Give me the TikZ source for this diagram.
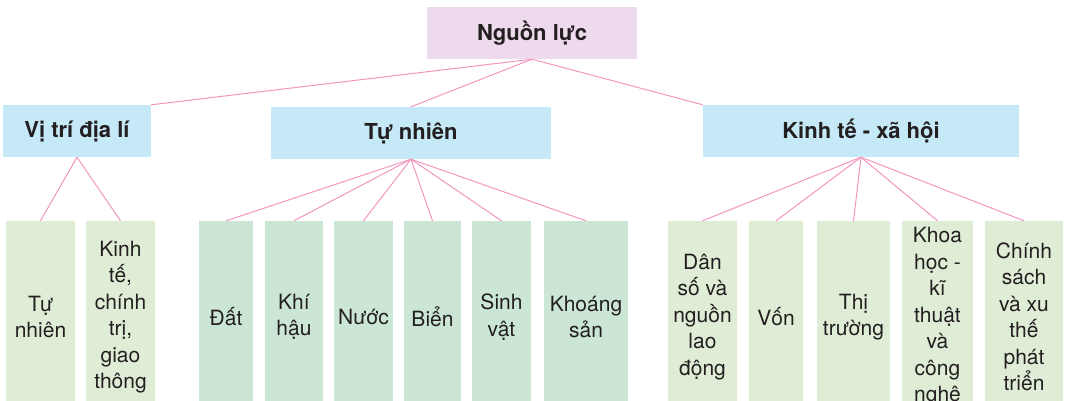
\documentclass[tikz,border=0pt]{standalone}
\usepackage{fontspec}
\setmainfont{TeX Gyre Heros}
\usetikzlibrary{positioning}
\definecolor{RootLilac}{HTML}{EDDAEC}
\definecolor{GroupBlue}{HTML}{C6E9F8}
\definecolor{LeafLime}{HTML}{DFEDD6}
\definecolor{LeafMint}{HTML}{CBE6D4}
\definecolor{LinkPink}{HTML}{F296BF}
\definecolor{InkDark}{HTML}{231F20}
\begin{document}
\begin{tikzpicture}[
        x=1pt,y=-1pt,
        rootbox/.style={fill=RootLilac,minimum width=210pt,minimum height=52pt,inner sep=0pt,text=InkDark,font=\fontsize{22}{26}\selectfont\bfseries},
        groupbox/.style={fill=GroupBlue,minimum height=52pt,inner sep=0pt,text=InkDark,font=\fontsize{22}{26}\selectfont\bfseries},
        leafbox/.style={fill=LeafLime,minimum height=192pt,inner sep=0pt,align=center,text=InkDark,font=\fontsize{21}{26.5}\selectfont},
        link/.style={draw=LinkPink,line width=1pt}
      ]
        \useasboundingbox (0,0) rectangle (1066,400);
        \clip (0,0) rectangle (1066,400);
        % top and group level
        \node[rootbox] (root) at (532,33) {Nguồn lực};
        \node[groupbox,minimum width=148pt] (vitri) at (77,131) {Vị trí địa lí};
        \node[groupbox,minimum width=280pt] (tunhien) at (411,133) {Tự nhiên};
        \node[groupbox,minimum width=316pt] (kinhte) at (861,131) {Kinh tế - xã hội};
        % leaves
        \node[leafbox,minimum width=69pt] (vt1) at (40.5,317) {Tự\\nhiên};
        \node[leafbox,minimum width=69pt] (vt2) at (120.5,317) {Kinh\\tế,\\chính\\trị,\\giao\\thông};
        \node[leafbox,fill=LeafMint,minimum width=54pt] (tn1) at (226,317) {Đất};
        \node[leafbox,fill=LeafMint,minimum width=58pt] (tn2) at (294,317) {Khí\\hậu};
        \node[leafbox,fill=LeafMint,minimum width=59pt] (tn3) at (363.5,317) {Nước};
        \node[leafbox,fill=LeafMint,minimum width=57pt] (tn4) at (432.5,317) {Biển};
        \node[leafbox,fill=LeafMint,minimum width=59pt] (tn5) at (501.5,317) {Sinh\\vật};
        \node[leafbox,fill=LeafMint,minimum width=84pt] (tn6) at (586,317) {Khoáng\\sản};
        \node[leafbox,minimum width=69pt] (kt1) at (702.5,317) {Dân\\số và\\nguồn\\lao\\động};
        \node[leafbox,minimum width=54pt] (kt2) at (776,317) {Vốn};
        \node[leafbox,minimum width=73pt] (kt3) at (853.5,317) {Thị\\trường};
        \node[leafbox,minimum width=71pt] (kt4) at (937.5,317) {Khoa\\học -\\kĩ\\thuật\\và\\công\\nghệ};
        \node[leafbox,minimum width=78pt] (kt5) at (1024,317) {Chính\\sách\\và xu\\thế\\phát\\triển};
        % connectors
        \draw[link] (root.south)--(vitri.north east);
        \draw[link] (root.south)--(tunhien.north);
        \draw[link] (root.south)--(kinhte.north west);
        \foreach \leaf in {vt1,vt2}
          \draw[link] (vitri.south)--(\leaf.north);
        \foreach \leaf in {tn1,tn2,tn3,tn4,tn5,tn6}
          \draw[link] (tunhien.south)--(\leaf.north);
        \foreach \leaf in {kt1,kt2,kt3,kt4,kt5}
          \draw[link] (kinhte.south)--(\leaf.north);
      \end{tikzpicture}
\end{document}
